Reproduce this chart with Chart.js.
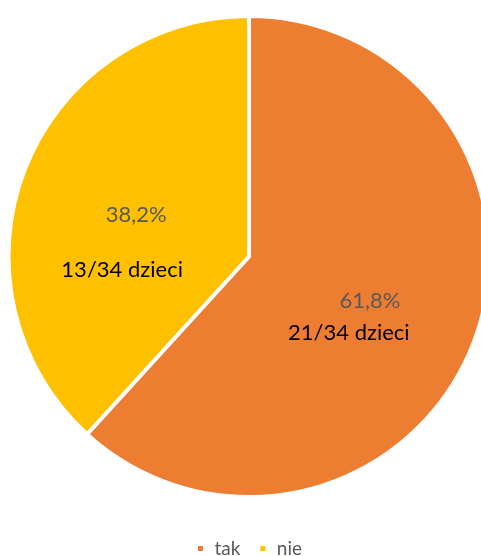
<!DOCTYPE html>
<html>
<head>
<meta charset="utf-8">
<script src="https://cdn.jsdelivr.net/npm/chart.js@4/dist/chart.umd.min.js"></script>
<style>
  html, body { margin: 0; padding: 0; background: #fff; overflow: hidden; }
  #wrap { width: 500px; height: 568px; }
</style>
</head>
<body>
<div id="wrap"><canvas id="pieChart" width="500" height="568"></canvas></div>
<script>
// dane wykresu
const kategorie = ["tak", "nie"];
const liczbaDzieci = [21, 13];
const wszystkieDzieci = 34;
const kolory = ["#ED7D31", "#FFC000"];

// przesunięcia etykiet względem środka wycinka (px)
const przesunieciaProcent = [[2, -2], [6, 4]];
const przesunieciaLiczba = [[-19, 30], [-8, 59]];

function procent(v) {
    return (v / wszystkieDzieci * 100).toFixed(1).replace(".", ",") + "%";
}

// Etykiety danych na wycinkach
const etykietyPlugin = {
    id: "etykiety",
    afterDatasetsDraw(chart) {
        const ctx = chart.ctx;
        const meta = chart.getDatasetMeta(0);
        ctx.save();
        ctx.textAlign = "center";
        ctx.textBaseline = "middle";
        meta.data.forEach((arc, i) => {
            const kat = (arc.startAngle + arc.endAngle) / 2;
            const r = arc.outerRadius * 0.53;
            const x = arc.x + Math.cos(kat) * r;
            const y = arc.y + Math.sin(kat) * r;
            ctx.font = "22px Lato, sans-serif";
            ctx.fillStyle = "#595959";
            ctx.fillText(procent(liczbaDzieci[i]), x + przesunieciaProcent[i][0], y + przesunieciaProcent[i][1]);
            ctx.fillStyle = "#000000";
            ctx.fillText(liczbaDzieci[i] + "/" + wszystkieDzieci + " dzieci", x + przesunieciaLiczba[i][0], y + przesunieciaLiczba[i][1]);
        });
        ctx.restore();
    }
};

const ctxPie = document.getElementById("pieChart").getContext("2d");
const pieChart = new Chart(ctxPie, {
    type: "pie",
    data: {
        labels: kategorie,
        datasets: [{
            data: liczbaDzieci,
            backgroundColor: kolory,
            borderColor: "#ffffff",
            borderWidth: 4
        }]
    },
    options: {
        responsive: false,
        animation: false,
        layout: {
            padding: { top: 12.5, left: 6.5, right: 8.5, bottom: 0 }
        },
        plugins: {
            legend: {
                position: "bottom",
                // pusty tytuł jako odstęp nad pozycjami legendy
                title: {
                    display: true,
                    text: "",
                    font: { size: 10, lineHeight: 1 },
                    padding: { top: 0, bottom: 10.5 }
                },
                labels: {
                    boxWidth: 9,
                    boxHeight: 9,
                    padding: 18,
                    color: "#595959",
                    font: { family: "Lato, sans-serif", size: 19 }
                }
            },
            tooltip: { enabled: false }
        }
    },
    plugins: [etykietyPlugin]
});
</script>
</body>
</html>
